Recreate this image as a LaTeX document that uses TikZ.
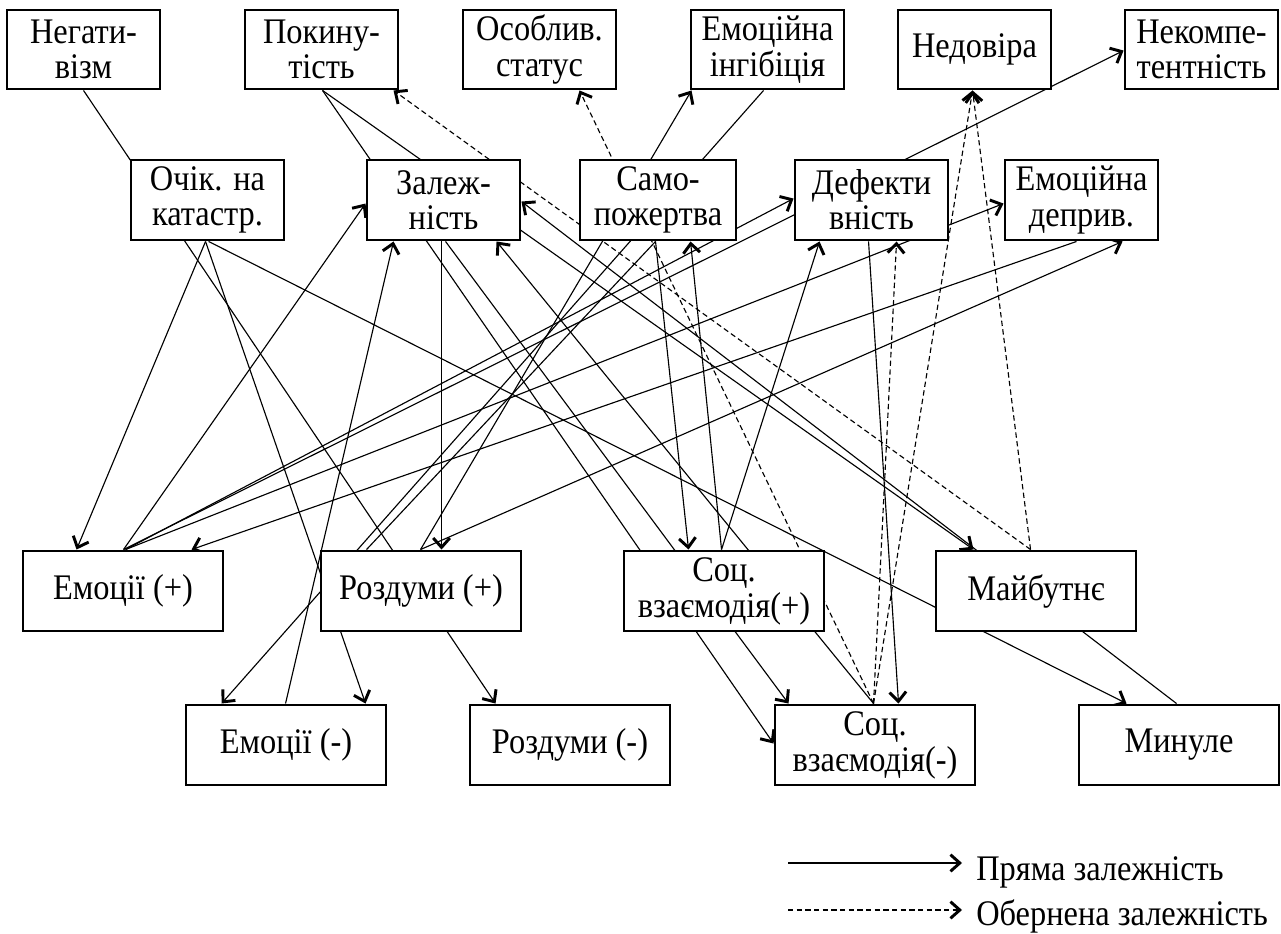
\documentclass[tikz,border=0pt]{standalone}
\usepackage{fontspec}
\setmainfont{Liberation Serif}[FakeStretch=0.9]
\usetikzlibrary{arrows.meta,calc}
\pgfdeclarelayer{bg}
\pgfsetlayers{bg,main}
\begin{document}
\begin{tikzpicture}[x=0.75pt,y=-0.75pt,
  box/.style={draw,line width=2.2pt,fill=white,align=center,inner sep=0pt,
    font=\fontsize{27}{26.5}\selectfont},
  boxS/.style={box,minimum width=114.75pt,minimum height=59.25pt},
  boxM/.style={box,minimum width=114.75pt,minimum height=60pt},
  boxL/.style={box,minimum width=150pt,minimum height=60pt},
  twoline/.style={font=\fontsize{27}{27}\selectfont},
  tip/.style={-{Straight Barb[length=7pt,width=12.5pt,line width=2.2pt]}},
  rel/.style={tip,line width=0.85pt},
  inv/.style={tip,line width=0.85pt,dash pattern=on 4pt off 2.5pt},
  plain/.style={line width=0.85pt},
  legtext/.style={font=\fontsize{27}{27}\selectfont,inner sep=0pt}]
\useasboundingbox (0,0) rectangle (1281,934);

% top row
\node[boxS] (neg)    at (83.5,49.5)   {Негати-\\візм};
\node[boxS] (pok)    at (321.5,49.5)  {Покину-\\тість};
\node[boxS] (osob)   at (539.5,49.5)  {Особлив.\\статус};
\node[boxS] (inh)    at (767.5,49.5)  {Емоційна\\інгібіція};
\node[boxS] (nedov)  at (974.5,49.5)  {Недовіра};
\node[boxS] (nekomp) at (1201.5,49.5) {Некомпе-\\тентність};

% second row
\node[boxM] (ochik) at (207.5,200) {Очік. на\\катастр.};
\node[boxM] (zal)   at (443.5,200) {Залеж-\\ність};
\node[boxM,minimum width=117pt] (samo) at (658,200) {Само-\\пожертва};
\node[boxM] (def)   at (871.5,200) {Дефекти\\вність};
\node[boxM] (depr)  at (1081.5,200) {Емоційна\\деприв.};

% third row
\node[boxL] (emp)  at (123,591)  {Емоції (+)};
\node[boxL] (rozp) at (421,591)  {Роздуми (+)};
\node[boxL,twoline] (socp) at (724,591) {Соц.\\взаємодія(+)};
\node[boxL] (maib) at (1036,591) {Майбутнє};

% bottom row
\node[boxL] (emm)  at (286,745)  {Емоції (-)};
\node[boxL] (rozm) at (570,745)  {Роздуми (-)};
\node[boxL,twoline] (socm) at (875,745) {Соц.\\взаємодія(-)};
\node[boxL] (min)  at (1179,745) {Минуле};

\begin{pgfonlayer}{bg}
% direct dependences
\draw[rel] ($(neg.south west)+(78,0)$)   -- ($(rozm.north west)+(27,0)$);
\draw[rel] ($(pok.south west)+(79,0)$)   -- ($(socm.north west)+(0,40)$);
\draw[rel] ($(pok.south west)+(79,0)$)   -- ($(maib.north west)+(39,0)$);
\draw[rel] ($(zal.south west)+(76,0)$)   -- ($(rozp.north west)+(122,0)$);
\draw[rel] ($(zal.south west)+(80,0)$)   -- ($(socm.north west)+(15,0)$);
\draw[rel] ($(socm.north west)+(100,0)$) -- ($(zal.south west)+(131,0)$);
\draw[rel] ($(min.north west)+(99,0)$)   -- ($(zal.north east)+(0,43)$);
\draw[rel] ($(ochik.south west)+(76,0)$) -- ($(emp.north west)+(55,0)$);
\draw[rel] ($(ochik.south west)+(76,0)$) -- ($(emm.north west)+(181,0)$);
\draw[rel] ($(ochik.south west)+(79,0)$) -- ($(min.north west)+(49,0)$);
\draw[rel] ($(emp.north west)+(102,0)$)  -- ($(zal.north west)+(0,45)$);
\draw[rel] ($(emm.north west)+(101,0)$)  -- ($(zal.south west)+(28,0)$);
\draw[rel] ($(emp.north west)+(104,0)$)  -- ($(def.north west)+(0,40)$);
\draw[rel] ($(emp.north west)+(102,0)$)  -- ($(nekomp.north west)+(0,42)$);
\draw[rel] ($(emp.north west)+(104,0)$)  -- ($(depr.north west)+(0,45)$);
\draw[rel] ($(depr.south west)+(73,0)$)  -- ($(emp.north west)+(170,0)$);
\draw[rel] ($(rozp.north west)+(101,0)$) -- ($(depr.south west)+(119,0)$);
\draw[rel] ($(rozp.north west)+(101,0)$) -- ($(inh.south west)+(2,0)$);
\draw[rel] ($(inh.south west)+(74,0)$)   -- ($(emm.north west)+(37,0)$);
\draw[plain] ($(samo.south west)+(77,0)$) -- ($(rozp.north west)+(47,0)$);
\draw[rel] ($(samo.south west)+(77,0)$)  -- ($(socp.north west)+(66,0)$);
\draw[rel] ($(socp.north west)+(99,0)$)  -- ($(samo.south west)+(112,0)$);
\draw[rel] ($(socp.north west)+(99,0)$)  -- ($(def.south west)+(26,0)$);
\draw[rel] ($(def.south west)+(75,0)$)   -- ($(socm.north west)+(125,0)$);
% inverse dependences
\draw[inv] ($(maib.north west)+(96,0)$)  -- ($(pok.south west)+(150,0)$);
\draw[inv] ($(maib.north west)+(96,0)$)  -- ($(nedov.south west)+(76,0)$);
\draw[inv] ($(socm.north west)+(100,0)$) -- ($(nedov.south west)+(76,0)$);
\draw[inv] ($(socm.north west)+(100,0)$) -- ($(def.south west)+(103,0)$);
\draw[inv] ($(socm.north west)+(100,0)$) -- ($(osob.south west)+(118,0)$);
\end{pgfonlayer}

% legend
\coordinate (lgA1) at (788,863);
\coordinate (lgA2) at (962,863);
\coordinate (lgB1) at (788,910);
\coordinate (lgB2) at (962,910);
\node[legtext,anchor=base west] (lgT1) at (976,880) {Пряма залежність};
\node[legtext,anchor=base west] (lgT2) at (976,925) {Обернена залежність};
\draw[rel] (lgA1) -- (lgA2);
\draw[inv] (lgB1) -- (lgB2);
\end{tikzpicture}
\end{document}
